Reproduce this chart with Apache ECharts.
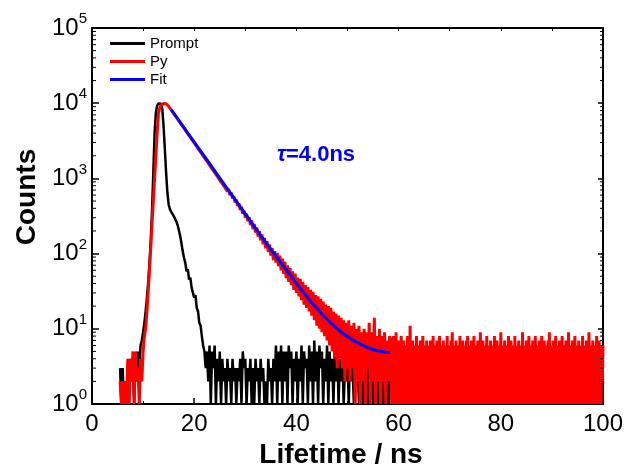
<!DOCTYPE html>
<html><head><meta charset="utf-8">
<script src="https://cdn.jsdelivr.net/npm/echarts@6/dist/echarts.min.js"></script>
<style>html,body{margin:0;padding:0;background:#fff}#c{width:625px;height:466px}</style>
</head><body><div id="c"></div>
<script>
// time step of the channels (ns)
const STEP = 0.25;
const TAIL_STEP = 0.125;

// ---- Prompt (black) ----
const promptLeadStart = 5.5;
const promptLead = [3,1,3,1,2,1,3,1,4,2,3,1,4,2,5,3,6,7,9];
const promptPeakStart = 10.25;
const promptPeak = [12,17,26,42,75,150,380,1200,4000,7500,9300,9900,10000,9800,8500,5000,2500,1200,650,450,
  390,360,340,315,290,268,240,205,172,138,108,88,76,58,62,45,48,35,33,26,28,19,17,12,11,8,6,5,3];
const promptTailStart = 22.5;
const promptTail = [5,2,6,1,5,3,6,1,4,2,
  5,1,4,2,3,1,4,2,3,1, 4,2,3,1,3,2,4,1,5,3, 4,1,3,2,4,1,3,1,4,2, 3,1,4,2,3,1,2,1,4,2,
  3,1,4,2,6,1,5,2,6,1, 5,2,5,1,6,3,5,1,4,2, 5,1,4,2,6,1,5,3,4,1, 6,2,5,1,7,2,5,1,6,3,
  5,1,4,2,6,1,5,2,4,1, 5,2,6,1,4,2,5,1,3,2, 4,1,5,2,3,1,4,2,3,1, 2,1,3,1,2,1,3,1,2,1,
  3,1,2,1,3,1,2,1,3,1, 2,1,3,1,2,1,2,1,3,1, 2,1,3,1,2,1,2,1,3,1, 2,1,2,1,3,1,2,1,2,1,
  3,1,2,1,2,1,3,1,2,1, 2,1,3,1,2,1,2,1,3,1, 2,1,2,1,3,1,2,1,6,2, 3,1,2,1,2,1,3,1,2,1,
  2,1,3,1,2,1,2,1,3,1, 2,1,2,1,3,1,2,1,2,1, 3,1,2,1,2,1,3,1,2,1, 2,1,3,1,2,1,2,1,4,2,
  3,1,2,1,2,1,3,1,2,1, 2,1,3,1,2,1,2,1,3,1, 2,1,2,1,3,1,2,1,2,1, 3,1,2,1,2,1,3,1,2,1,
  2,1,3,1,2,1,2,1,3,1, 2,1,2,1,3,1,2,1,2,1, 2];

// ---- Py (red) ----
const pyLeadStart = 5.5;
const pyLead = [2,1,2,1,2,1,4,1,4,2,5,1,5,2,3,1,4,2,5];
const pyRiseStart = 10.25;
const pyRise = [8,10,17,32,60,120,250,500,1000,2000,4000,7300,8700,9300,9700,9900,10000,9850];
const pyDecayStart = 14.75;
const pyDecay = [9650,9100,8700,8150,7800,7280,6990,6520,6260,5820,
  5610,5200,5030,4650,4510,4160,4040,3710,3620,3320,
  3250,2960,2910,2650,2610,2360,2340,2110,2100,1880,
  1890,1690,1700,1500,1520,1340,1370,1200,1230,1070,
  1100,950,990,850,890,760,800,670,720,600,
  650,540,580,480,520,430,465,380,420,340,
  375,300,340,270,305,240,275,212,248,190,
  222,168,200,150,180,133,162,118,146,105,
  132,94,118,82,108,76,102,68,94,60,
  86,54,78,47,70,42,64,38,58,33,
  54,30,48,27,46,24,42,21,38,19,
  36,17,33,15,31,13,28,11,27,10,
  25,9,23,8,21,7,20,6,19,5,
  17,4,16,3,15,4,14,3,13,2,
  12,3,13,2,11,3,12,1,10,2,
  11,1,9,2,10,1,9,3,12,1,
  9,2,14,1,8,2,10,1,8,2,
  9,1,7,2,8];
const pyTailStart = 58.5;   // sampled every TAIL_STEP
const pyTail = [
  7,1,5,1,8,2,6,1,9,1,6,1,7,2,5,1,8,1,6,1,
  7,1,5,1,6,2,8,1,5,1,11,1,6,2,7,1,5,1,6,1,
  8,2,6,1,5,1,7,1,6,3,8,1,5,1,6,1,7,2,5,1,
  6,1,7,1,5,2,8,1,6,1,5,1,7,1,6,2,8,1,5,1,
  6,1,7,2,5,1,6,1,8,1,5,2,6,1,7,1,9,1,5,1,
  6,2,7,1,5,1,6,1,8,2,5,1,7,1,6,1,5,3,7,1,
  8,1,6,1,5,2,7,1,6,1,8,1,5,1,6,2,7,1,5,1,
  9,1,6,1,7,2,5,1,6,1,8,1,6,2,5,1,7,1,6,1,
  5,1,8,2,6,1,7,1,5,1,6,2,9,1,6,1,5,1,7,1,
  6,2,5,1,8,1,6,1,7,2,5,1,6,1,8,1,5,2,6,1,
  7,1,5,1,6,1,9,2,6,1,5,1,7,1,6,3,8,1,5,1,
  6,1,7,2,5,1,8,1,6,1,5,2,7,1,6,1,8,1,5,1,
  7,2,6,1,5,1,7,1,9,1,6,2,5,1,7,1,6,1,8,2,
  5,1,6,1,7,1,5,2,8,1,6,1,5,1,7,2,6,1,9,1,
  6,1,5,2,7,1,6,1,8,1,5,1,6,2,7,1,5,1,6,1,
  8,1,6,2,5,1,7,1,6,1,9,2,6,1,5,1,7,1,6,1,
  5,2,8,1,6,1,7,1,5,1,6,2,6];

// ---- Fit (blue) ----
const fitTime = [15.5,17,19,21,23,25,27,29,31,33,35,37,38,39,40,41,42,43,44,45,46,47,48,49,50,51,52,53,54,55,56,57,58.3];
const fitCounts = [8200,5900,3800,2450,1580,1010,650,420,270,175,114,75,61,50,40,33,27,22.4,18.7,15.7,13.4,11.5,10,8.8,7.9,7.1,6.5,6.0,5.6,5.3,5.1,4.95,4.8];

// axis decorations
const legendNames = ['Prompt','Py','Fit'];
const minorMantissas = [2,3,4,5,6,7,8,9];
const decades = [1,10,100,1000,10000];

const FONT = '"Liberation Sans", Arial, Helvetica, sans-serif';
function seg(t0, vals, step){ step = step || STEP; return vals.map((v,i)=>[Math.round((t0+i*step)*1000)/1000, v]); }
const promptData = seg(promptLeadStart, promptLead).concat(seg(promptPeakStart, promptPeak), seg(promptTailStart, promptTail));
const pyData = seg(pyLeadStart, pyLead).concat(seg(pyRiseStart, pyRise), seg(pyDecayStart, pyDecay), seg(pyTailStart, pyTail, TAIL_STEP));
const fitData = fitTime.map((t,i)=>[t, fitCounts[i]]);
const minorTickData = [];
decades.forEach(d => minorMantissas.forEach(m => minorTickData.push([0, m*d])));

const chart = echarts.init(document.getElementById('c'), null, {renderer:'canvas'});
const axisLineStyle = {color:'#000', width:2};
chart.setOption({
  animation:false,
  backgroundColor:'#fff',
  grid:{left:92, right:22, top:28, bottom:62, containLabel:false, outerBoundsMode:'none'},
  legend:{
    data:legendNames, orient:'vertical', left:110, top:36, padding:0, itemGap:3,
    itemWidth:35, itemHeight:3, icon:'rect', selectedMode:false,
    textStyle:{fontFamily:FONT, fontSize:15, color:'#000', lineHeight:15}
  },
  xAxis:[
    {type:'value', min:0, max:100, interval:20, position:'bottom',
     axisLine:{onZero:false, lineStyle:axisLineStyle},
     axisTick:{inside:true, length:6, lineStyle:{color:'#000', width:1.5}},
     minorTick:{show:true, splitNumber:2, length:3, lineStyle:{color:'#000', width:1}},
     axisLabel:{margin:8, fontFamily:FONT, fontSize:24, color:'#000'},
     splitLine:{show:false},
     name:'Lifetime / ns', nameLocation:'middle', nameGap:30,
     nameTextStyle:{fontFamily:FONT, fontSize:28, fontWeight:'bold', color:'#000', padding:[0,13,0,0]}},
    {type:'value', min:0, max:100, interval:10, position:'top',
     axisLine:{onZero:false, lineStyle:axisLineStyle},
     axisTick:{inside:true, length:3, lineStyle:{color:'#000', width:1}},
     axisLabel:{show:false}, splitLine:{show:false}}
  ],
  yAxis:[
    {type:'log', logBase:10, min:1, max:100000, position:'left',
     axisLine:{show:true, onZero:false, lineStyle:axisLineStyle},
     axisTick:{show:true, inside:true, length:7, lineStyle:{color:'#000', width:1.5}},
     axisLabel:{margin:5,
       formatter: v => '{b|10}{s|' + Math.round(Math.log10(v)) + '}',
       rich:{
         b:{fontFamily:FONT, fontSize:24, color:'#000'},
         s:{fontFamily:FONT, fontSize:15, color:'#000', verticalAlign:'top', padding:[0,0,18,0]}
       }},
     splitLine:{show:false},
     name:'Counts', nameLocation:'middle', nameRotate:90, nameGap:51,
     nameTextStyle:{fontFamily:FONT, fontSize:28, fontWeight:'bold', color:'#000', padding:[0,0,0,38]}},
    {type:'log', logBase:10, min:1, max:100000, position:'right',
     axisLine:{show:true, onZero:false, lineStyle:axisLineStyle},
     axisTick:{show:true, inside:true, length:5, lineStyle:{color:'#000', width:1.5}},
     axisLabel:{show:false}, splitLine:{show:false}}
  ],
  graphic:[{
    type:'text', left:277, top:144, z:10,
    style:{
      text:'{t|τ}{r|=4.0ns}',
      rich:{
        t:{fontFamily:FONT, fontSize:22, fontWeight:'bold', fontStyle:'italic', fill:'#0000ff'},
        r:{fontFamily:FONT, fontSize:22, fontWeight:'bold', fill:'#0000ff'}
      }
    }
  }],
  series:[
    {name:'Prompt', type:'line', data:promptData, symbol:'none', color:'#000000',
     lineStyle:{color:'#000000', width:2.5}, z:2},
    {name:'Py', type:'line', data:pyData, symbol:'none', color:'#ff0000',
     lineStyle:{color:'#ff0000', width:3}, z:3},
    {name:'Fit', type:'line', data:fitData, symbol:'none', smooth:false, color:'#0000ff',
     lineStyle:{color:'#0000ff', width:3}, z:4},
    {name:'minorTicks', type:'custom', data:minorTickData, silent:true, z:5,
     renderItem:function(params, api){
       const y = api.value(1);
       const l = api.coord([0, y]);
       const r = api.coord([100, y]);
       return {type:'group', children:[
         {type:'line', shape:{x1:l[0], y1:l[1], x2:l[0]+4, y2:l[1]}, style:{stroke:'#000', lineWidth:1}},
         {type:'line', shape:{x1:r[0]-3, y1:r[1], x2:r[0], y2:r[1]}, style:{stroke:'#000', lineWidth:1}}
       ]};
     }}
  ]
});
</script>
</body></html>
